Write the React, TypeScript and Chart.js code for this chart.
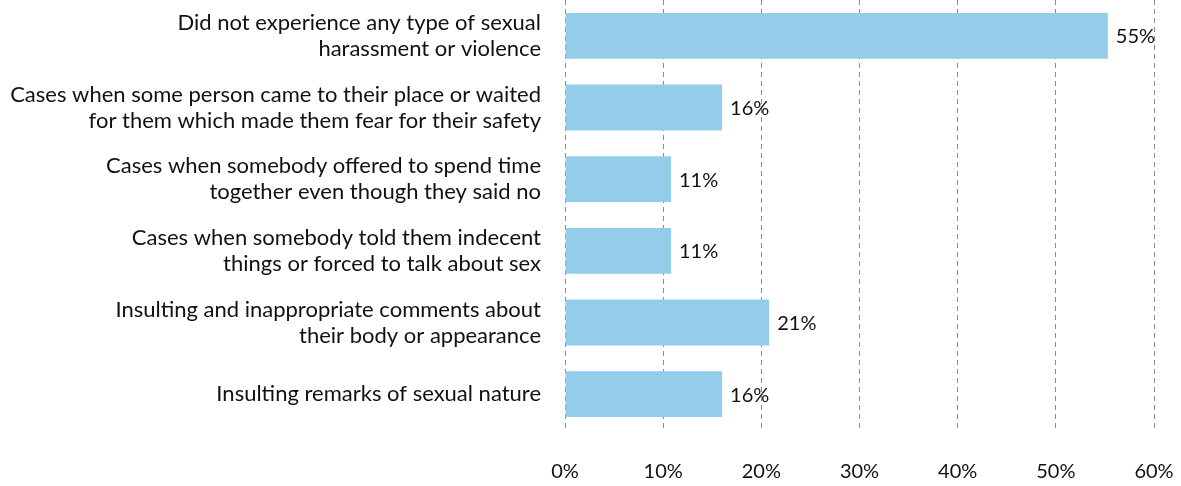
import React, { useEffect, useRef } from "react";
import { Chart, registerables } from "chart.js";

Chart.register(...registerables);

const categories: string[][] = [
  ["Did not experience any type of sexual", "harassment or violence"],
  ["Cases when some person came to their place or waited", "for them which made them fear for their safety"],
  ["Cases when somebody offered to spend time", "together even though they said no"],
  ["Cases when somebody told them indecent", "things or forced to talk about sex"],
  ["Insulting and inappropriate comments about", "their body or appearance"],
  ["Insulting remarks of sexual nature"],
];
const values: number[] = [55.3, 16, 10.8, 10.8, 20.8, 16];
const valueLabels: string[] = ["55%", "16%", "11%", "11%", "21%", "16%"];
const tickValues: number[] = [0, 10, 20, 30, 40, 50, 60];

const FONT = "Lato, 'Open Sans', sans-serif";

const labelPlugin = {
  id: "valueLabels",
  afterDatasetsDraw(chart: any) {
    const ctx = chart.ctx;
    const meta = chart.getDatasetMeta(0);
    ctx.save();
    ctx.font = `20px ${FONT}`;
    ctx.fillStyle = "#111111";
    ctx.textAlign = "left";
    ctx.textBaseline = "middle";
    meta.data.forEach((bar: any, i: number) => {
      ctx.fillText(valueLabels[i], bar.x + 8, bar.y + 1);
    });
    ctx.restore();
  },
};

export default function App() {
  const ref = useRef<HTMLCanvasElement | null>(null);
  useEffect(() => {
    if (!ref.current) return;
    const chart = new Chart(ref.current, {
      type: "bar",
      data: {
        labels: categories,
        datasets: [
          {
            data: values,
            backgroundColor: "#93CDEA",
            borderWidth: 0,
            barPercentage: 0.64,
            categoryPercentage: 1,
          },
        ],
      },
      options: {
        indexAxis: "y",
        animation: false,
        responsive: false,
        maintainAspectRatio: false,
        layout: { padding: { top: 0, right: 27, left: 0, bottom: 0 } },
        plugins: {
          legend: { display: false },
          tooltip: { enabled: false },
        },
        scales: {
          x: {
            min: 0,
            max: 60,
            afterBuildTicks: (scale: any) => {
              scale.ticks = tickValues.map((v) => ({ value: v }));
            },
            afterFit: (scale: any) => {
              scale.height = 56;
              scale.paddingLeft = 0;
              scale.paddingRight = 0;
            },
            border: { display: false, dash: [5, 4] },
            grid: {
              color: "#8a8a8a",
              lineWidth: 1,
              drawTicks: false,
            },
            ticks: {
              padding: 30,
              color: "#111111",
              font: { family: FONT, size: 20 },
              callback: (v: any) => `${v}%`,
            },
          },
          y: {
            afterFit: (scale: any) => {
              scale.width = 565;
              scale.paddingTop = 0;
              scale.paddingBottom = 0;
            },
            border: { display: false },
            grid: { display: false, drawTicks: false },
            ticks: {
              padding: 24,
              color: "#111111",
              font: { family: FONT, size: 22, lineHeight: 1.18 },
            },
          },
        },
      },
      plugins: [labelPlugin],
    } as any);
    return () => chart.destroy();
  }, []);
  return (
    <div style={{ position: "absolute", left: 0, top: 0, width: 1181, height: 486, background: "#fff" }}>
      <canvas ref={ref} width={1181} height={486} />
    </div>
  );
}
